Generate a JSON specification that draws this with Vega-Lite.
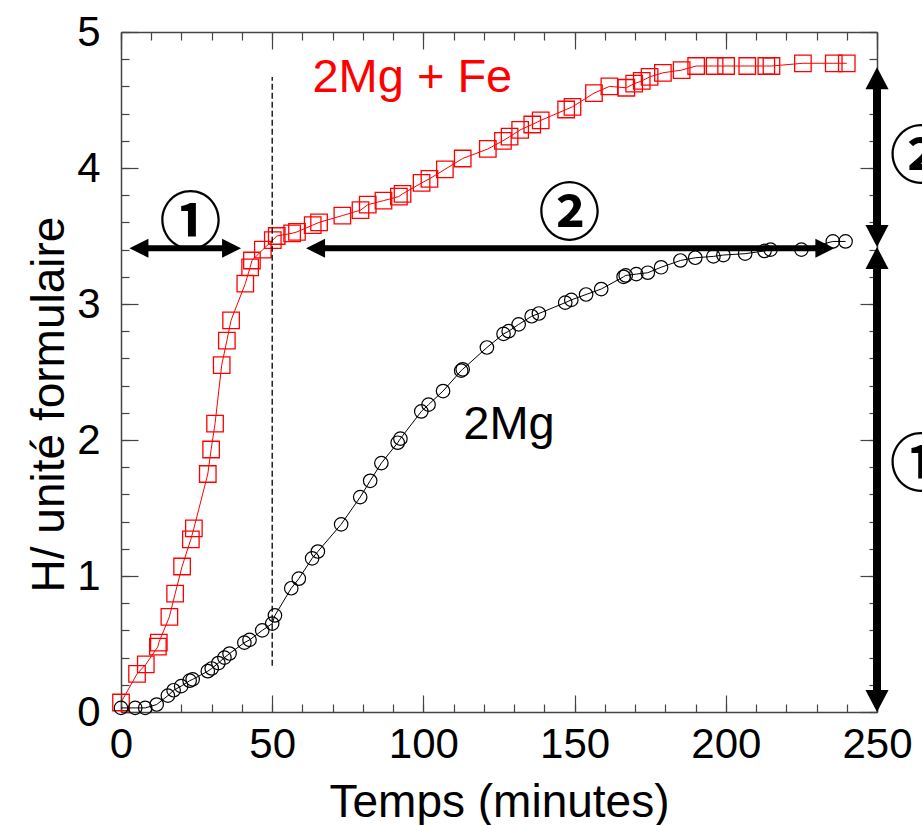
{
  "$schema": "https://vega.github.io/schema/vega-lite/v6.json",
  "width": 756,
  "height": 680,
  "autosize": {"type": "none"},
  "padding": {"left": 121, "top": 32, "right": 45, "bottom": 113},
  "background": "white",
  "config": {
    "view": {"stroke": null},
    "font": "Liberation Sans",
    "axis": {"grid": false, "tickColor": "#444", "tickWidth": 1.2, "domainColor": "#444", "domainWidth": 1.5, "labelFont": "Liberation Sans", "titleFont": "Liberation Sans", "labelColor": "black", "titleColor": "black", "titleFontWeight": "normal"}
  },
  "datasets": {
    "fe": [
      {"t": 0, "h": 0.07}, {"t": 5.3, "h": 0.28}, {"t": 8.2, "h": 0.35}, {"t": 12.2, "h": 0.48}, {"t": 12.5, "h": 0.51},
      {"t": 16.0, "h": 0.70}, {"t": 17.9, "h": 0.87}, {"t": 20.2, "h": 1.07}, {"t": 23.1, "h": 1.27}, {"t": 24.1, "h": 1.35},
      {"t": 28.7, "h": 1.75}, {"t": 29.8, "h": 1.93}, {"t": 31.1, "h": 2.12}, {"t": 33.3, "h": 2.55}, {"t": 35.0, "h": 2.73},
      {"t": 36.4, "h": 2.88}, {"t": 41.1, "h": 3.15}, {"t": 42.7, "h": 3.27}, {"t": 43.3, "h": 3.32}, {"t": 46.9, "h": 3.40},
      {"t": 50.2, "h": 3.47}, {"t": 51.5, "h": 3.50}, {"t": 56.6, "h": 3.52}, {"t": 58.2, "h": 3.53}, {"t": 63.4, "h": 3.58},
      {"t": 65.5, "h": 3.60}, {"t": 73.2, "h": 3.65}, {"t": 79.2, "h": 3.69}, {"t": 81.6, "h": 3.73}, {"t": 86.8, "h": 3.76},
      {"t": 91.9, "h": 3.79}, {"t": 93.1, "h": 3.81}, {"t": 99.4, "h": 3.89}, {"t": 102.0, "h": 3.92}, {"t": 107.1, "h": 3.99},
      {"t": 113.0, "h": 4.07}, {"t": 121.3, "h": 4.14}, {"t": 126.3, "h": 4.20}, {"t": 128.5, "h": 4.23}, {"t": 132.0, "h": 4.28},
      {"t": 136.0, "h": 4.32}, {"t": 138.8, "h": 4.35}, {"t": 147.2, "h": 4.43}, {"t": 149.3, "h": 4.45}, {"t": 156.4, "h": 4.55},
      {"t": 161.5, "h": 4.60}, {"t": 167.1, "h": 4.59}, {"t": 169.7, "h": 4.62}, {"t": 172.2, "h": 4.64}, {"t": 174.8, "h": 4.67},
      {"t": 179.2, "h": 4.70}, {"t": 185.4, "h": 4.72}, {"t": 190.2, "h": 4.75}, {"t": 196.3, "h": 4.75}, {"t": 200.1, "h": 4.75},
      {"t": 207.1, "h": 4.75}, {"t": 213.4, "h": 4.75}, {"t": 215.1, "h": 4.75}, {"t": 225.5, "h": 4.77}, {"t": 235.7, "h": 4.77},
      {"t": 240.0, "h": 4.77}
    ],
    "mg": [
      {"t": 0, "h": 0.03}, {"t": 4.7, "h": 0.03}, {"t": 8.0, "h": 0.03}, {"t": 11.8, "h": 0.055}, {"t": 15.5, "h": 0.12},
      {"t": 17.4, "h": 0.16}, {"t": 19.9, "h": 0.19}, {"t": 22.7, "h": 0.23}, {"t": 23.7, "h": 0.24}, {"t": 28.7, "h": 0.30},
      {"t": 30.0, "h": 0.32}, {"t": 32.2, "h": 0.36}, {"t": 34.2, "h": 0.40}, {"t": 35.9, "h": 0.43}, {"t": 40.8, "h": 0.51},
      {"t": 42.5, "h": 0.53}, {"t": 46.7, "h": 0.60}, {"t": 50.0, "h": 0.65}, {"t": 50.9, "h": 0.71}, {"t": 56.3, "h": 0.91},
      {"t": 58.8, "h": 0.98}, {"t": 63.2, "h": 1.13}, {"t": 65.1, "h": 1.18}, {"t": 72.8, "h": 1.38}, {"t": 79.1, "h": 1.58},
      {"t": 82.4, "h": 1.70}, {"t": 86.1, "h": 1.83}, {"t": 91.5, "h": 1.98}, {"t": 92.4, "h": 2.01}, {"t": 99.3, "h": 2.21},
      {"t": 101.7, "h": 2.26}, {"t": 106.5, "h": 2.36}, {"t": 112.5, "h": 2.51}, {"t": 113.0, "h": 2.52}, {"t": 121.0, "h": 2.68},
      {"t": 126.5, "h": 2.78}, {"t": 128.2, "h": 2.80}, {"t": 131.5, "h": 2.85}, {"t": 135.8, "h": 2.91}, {"t": 138.2, "h": 2.93},
      {"t": 146.9, "h": 3.01}, {"t": 148.9, "h": 3.03}, {"t": 153.8, "h": 3.07}, {"t": 158.8, "h": 3.11}, {"t": 166.2, "h": 3.20},
      {"t": 166.9, "h": 3.21}, {"t": 170.4, "h": 3.22}, {"t": 174.2, "h": 3.23}, {"t": 178.6, "h": 3.27}, {"t": 185.0, "h": 3.32},
      {"t": 189.9, "h": 3.34}, {"t": 195.9, "h": 3.35}, {"t": 199.2, "h": 3.36}, {"t": 206.4, "h": 3.37}, {"t": 212.8, "h": 3.39},
      {"t": 214.8, "h": 3.40}, {"t": 225.0, "h": 3.40}, {"t": 235.4, "h": 3.46}, {"t": 239.6, "h": 3.46}
    ],
    "hshafts": [{"x1": 5.8, "x2": 36.7, "y": 3.41}, {"x1": 64.2, "x2": 232.9, "y": 3.41}],
    "vshafts": [{"x": 250, "y1": 3.50, "y2": 4.66}, {"x": 250, "y1": 0.08, "y2": 3.34}],
    "headsRight": [{"x": 39.7, "y": 3.41}, {"x": 235.9, "y": 3.41}],
    "headsLeft": [{"x": 2.8, "y": 3.41}, {"x": 61.2, "y": 3.41}],
    "headsUp": [{"x": 250, "y": 4.74}, {"x": 250, "y": 3.42}],
    "headsDown": [{"x": 250, "y": 3.42}, {"x": 250, "y": 0}],
    "circled": [
      {"x": 23.0, "y": 3.58, "label": "①"},
      {"x": 148.3, "y": 3.65, "label": "②"},
      {"x": 264.5, "y": 4.065, "label": "②"},
      {"x": 264.5, "y": 1.805, "label": "①"}
    ]
  },
  "layer": [
    {
      "data": {"name": "fe"},
      "mark": {"type": "line", "color": "#ff0000", "strokeWidth": 1},
      "encoding": {
        "x": {"field": "t", "type": "quantitative", "scale": {"domain": [0, 250], "nice": false}, "axis": {"orient": "bottom", "values": [0, 50, 100, 150, 200, 250], "tickSize": -17, "labelFontSize": 42, "labelPadding": 29, "labelFlush": false, "labelOverlap": false, "title": "Temps (minutes)", "titleFontSize": 46, "titleY": 104, "titleBaseline": "alphabetic"}},
        "y": {"field": "h", "type": "quantitative", "scale": {"domain": [0, 5], "nice": false}, "axis": {"orient": "left", "values": [0, 1, 2, 3, 4, 5], "tickSize": -17, "labelFontSize": 42, "labelPadding": 38, "labelFlush": false, "labelOverlap": false, "title": "H/ unité formulaire", "titleFontSize": 46, "titleX": -58, "titleY": 372, "titleAngle": -90, "titleAlign": "center", "titleBaseline": "alphabetic"}}
      }
    },
    {
      "data": {"name": "fe"},
      "mark": {"type": "point", "shape": "square", "filled": false, "color": "#ff0000", "size": 272, "strokeWidth": 1.3, "opacity": 1},
      "encoding": {
        "x": {"field": "t", "type": "quantitative", "scale": {"domain": [0, 250], "nice": false}, "axis": {"orient": "bottom", "values": [0, 10, 20, 30, 40, 50, 60, 70, 80, 90, 100, 110, 120, 130, 140, 150, 160, 170, 180, 190, 200, 210, 220, 230, 240, 250], "tickSize": -8, "labels": false, "domain": false, "title": null}},
        "y": {"field": "h", "type": "quantitative", "scale": {"domain": [0, 5], "nice": false}, "axis": {"orient": "left", "values": [0, 0.2, 0.4, 0.6, 0.8, 1, 1.2, 1.4, 1.6, 1.8, 2, 2.2, 2.4, 2.6, 2.8, 3, 3.2, 3.4, 3.6, 3.8, 4, 4.2, 4.4, 4.6, 4.8, 5], "tickSize": -8, "labels": false, "domain": false, "title": null}}
      }
    },
    {
      "data": {"name": "mg"},
      "mark": {"type": "line", "color": "black", "strokeWidth": 1},
      "encoding": {
        "x": {"field": "t", "type": "quantitative", "scale": {"domain": [0, 250], "nice": false}, "axis": {"orient": "top", "values": [0, 50, 100, 150, 200, 250], "tickSize": -17, "labels": false, "title": null}},
        "y": {"field": "h", "type": "quantitative", "scale": {"domain": [0, 5], "nice": false}, "axis": {"orient": "right", "values": [0, 1, 2, 3, 4, 5], "tickSize": -17, "labels": false, "title": null}}
      }
    },
    {
      "data": {"name": "mg"},
      "mark": {"type": "point", "shape": "circle", "filled": false, "color": "black", "size": 182, "strokeWidth": 1.2, "opacity": 1},
      "encoding": {
        "x": {"field": "t", "type": "quantitative", "scale": {"domain": [0, 250], "nice": false}, "axis": {"orient": "top", "values": [0, 10, 20, 30, 40, 50, 60, 70, 80, 90, 100, 110, 120, 130, 140, 150, 160, 170, 180, 190, 200, 210, 220, 230, 240, 250], "tickSize": -8, "labels": false, "domain": false, "title": null}},
        "y": {"field": "h", "type": "quantitative", "scale": {"domain": [0, 5], "nice": false}, "axis": {"orient": "right", "values": [0, 0.2, 0.4, 0.6, 0.8, 1, 1.2, 1.4, 1.6, 1.8, 2, 2.2, 2.4, 2.6, 2.8, 3, 3.2, 3.4, 3.6, 3.8, 4, 4.2, 4.4, 4.6, 4.8, 5], "tickSize": -8, "labels": false, "domain": false, "title": null}}
      }
    },
    {
      "data": {"values": [{"t": 50, "y1": 0.34, "y2": 4.67}]},
      "mark": {"type": "rule", "color": "black", "strokeWidth": 1.3, "strokeDash": [6, 3]},
      "encoding": {
        "x": {"field": "t", "type": "quantitative", "scale": {"domain": [0, 250], "nice": false}, "axis": null},
        "y": {"field": "y1", "type": "quantitative", "scale": {"domain": [0, 5], "nice": false}, "axis": null},
        "y2": {"field": "y2"}
      }
    },
    {
      "data": {"name": "hshafts"},
      "mark": {"type": "rule", "color": "black", "strokeWidth": 6},
      "encoding": {
        "x": {"field": "x1", "type": "quantitative", "scale": {"domain": [0, 250], "nice": false}, "axis": null},
        "x2": {"field": "x2"},
        "y": {"field": "y", "type": "quantitative", "scale": {"domain": [0, 5], "nice": false}, "axis": null}
      }
    },
    {
      "data": {"name": "vshafts"},
      "mark": {"type": "rule", "color": "black", "strokeWidth": 8},
      "encoding": {
        "x": {"field": "x", "type": "quantitative", "scale": {"domain": [0, 250], "nice": false}, "axis": null},
        "y": {"field": "y1", "type": "quantitative", "scale": {"domain": [0, 5], "nice": false}, "axis": null},
        "y2": {"field": "y2"}
      }
    },
    {
      "data": {"name": "headsRight"},
      "mark": {"type": "point", "shape": "M0,0L-2,-1L-2,1Z", "filled": true, "color": "black", "size": 361, "opacity": 1},
      "encoding": {
        "x": {"field": "x", "type": "quantitative", "scale": {"domain": [0, 250], "nice": false}, "axis": null},
        "y": {"field": "y", "type": "quantitative", "scale": {"domain": [0, 5], "nice": false}, "axis": null}
      }
    },
    {
      "data": {"name": "headsLeft"},
      "mark": {"type": "point", "shape": "M0,0L2,-1L2,1Z", "filled": true, "color": "black", "size": 361, "opacity": 1},
      "encoding": {
        "x": {"field": "x", "type": "quantitative", "scale": {"domain": [0, 250], "nice": false}, "axis": null},
        "y": {"field": "y", "type": "quantitative", "scale": {"domain": [0, 5], "nice": false}, "axis": null}
      }
    },
    {
      "data": {"name": "headsUp"},
      "mark": {"type": "point", "shape": "M0,0L-1.05,2L1.05,2Z", "filled": true, "color": "black", "size": 484, "opacity": 1},
      "encoding": {
        "x": {"field": "x", "type": "quantitative", "scale": {"domain": [0, 250], "nice": false}, "axis": null},
        "y": {"field": "y", "type": "quantitative", "scale": {"domain": [0, 5], "nice": false}, "axis": null}
      }
    },
    {
      "data": {"name": "headsDown"},
      "mark": {"type": "point", "shape": "M0,0L-1.05,-2L1.05,-2Z", "filled": true, "color": "black", "size": 484, "opacity": 1},
      "encoding": {
        "x": {"field": "x", "type": "quantitative", "scale": {"domain": [0, 250], "nice": false}, "axis": null},
        "y": {"field": "y", "type": "quantitative", "scale": {"domain": [0, 5], "nice": false}, "axis": null}
      }
    },
    {
      "data": {"name": "circled"},
      "mark": {"type": "text", "font": "Noto Sans CJK JP", "fontWeight": "bold", "fontSize": 62, "align": "center", "baseline": "middle", "color": "black"},
      "encoding": {
        "x": {"field": "x", "type": "quantitative", "scale": {"domain": [0, 250], "nice": false}, "axis": null},
        "y": {"field": "y", "type": "quantitative", "scale": {"domain": [0, 5], "nice": false}, "axis": null},
        "text": {"field": "label"}
      }
    },
    {
      "data": {"values": [{"x": 63.3, "y": 4.557, "label": "2Mg + Fe"}]},
      "mark": {"type": "text", "font": "Liberation Sans", "fontSize": 47, "align": "left", "baseline": "alphabetic", "color": "#ff0000"},
      "encoding": {
        "x": {"field": "x", "type": "quantitative", "scale": {"domain": [0, 250], "nice": false}, "axis": null},
        "y": {"field": "y", "type": "quantitative", "scale": {"domain": [0, 5], "nice": false}, "axis": null},
        "text": {"field": "label"}
      }
    },
    {
      "data": {"values": [{"x": 113.2, "y": 2.011, "label": "2Mg"}]},
      "mark": {"type": "text", "font": "Liberation Sans", "fontSize": 47, "align": "left", "baseline": "alphabetic", "color": "black"},
      "encoding": {
        "x": {"field": "x", "type": "quantitative", "scale": {"domain": [0, 250], "nice": false}, "axis": null},
        "y": {"field": "y", "type": "quantitative", "scale": {"domain": [0, 5], "nice": false}, "axis": null},
        "text": {"field": "label"}
      }
    }
  ],
  "resolve": {"axis": {"x": "independent", "y": "independent"}}
}
